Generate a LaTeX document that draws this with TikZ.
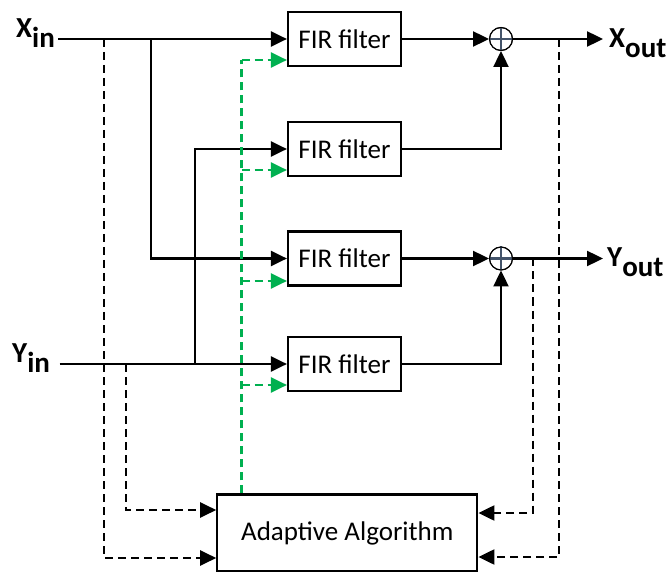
\documentclass[tikz,border=0pt]{standalone}
\usepackage{fontspec}
\setmainfont{Carlito}
\usetikzlibrary{arrows.meta}
\definecolor{fbgreen}{HTML}{00B050}
\definecolor{plusgray}{HTML}{44546A}
\newcommand\firfont{\fontsize{27}{32}\selectfont}
\newcommand\lblfont{\fontsize{29}{34}\selectfont\bfseries}
\newcommand\sigsub[1]{\raisebox{-10pt}{#1}}

\begin{document}
\begin{tikzpicture}[x=1pt,y=-1pt,
  fir/.style={draw, line width=2.2pt, minimum width=113pt, minimum height=54pt,
              inner sep=0pt, font=\firfont},
  adapt/.style={draw, line width=2.2pt, minimum width=260pt, minimum height=77pt,
              inner sep=0pt, font=\firfont},
  summer/.style={circle, draw, line width=1pt, minimum size=23pt, inner sep=0pt},
  lbl/.style={inner sep=0pt, anchor=base west, font=\lblfont},
  sig/.style={line width=2.4pt},
  fb/.style={line width=2.2pt, dash pattern=on 8pt off 5pt},
  gfb/.style={line width=2.2pt, fbgreen, dash pattern=on 8pt off 5pt},
  tip/.style={-{Triangle[length=16pt,width=15pt]}},
]
\useasboundingbox (0,0) rectangle (667,572);

% filter bank
\node[fir] (f1) at (344.5,39)    {FIR filter};
\node[fir] (f2) at (344.5,149)   {FIR filter};
\node[fir] (f3) at (344.5,258.5) {FIR filter};
\node[fir] (f4) at (344.5,364)   {FIR filter};

% adaptive block
\node[adapt] (ad) at (347.3,533) {Adaptive Algorithm};

% summing junctions
\node[summer] (s1) at (501,39) {};
\node[summer] (s2) at (501,258.5) {};
\foreach \s in {s1,s2}{
  \draw[plusgray, line width=2.8pt] (\s.west) -- (\s.east) (\s.north) -- (\s.south);
  \draw[line width=1pt] (\s) circle (11.5pt);
}

% labels
\node[lbl] (xinl)  at (16,38)   {X\sigsub{in}};
\node[lbl] (yinl)  at (12,362)  {Y\sigsub{in}};
\node[lbl] (xoutl) at (609,48)  {X\sigsub{out}};
\node[lbl] (youtl) at (607,266) {Y\sigsub{out}};

% line ends and branch points
\coordinate (xs)  at (58,39);
\coordinate (ys)  at (59.5,364);
\coordinate (xo)  at (603,39);
\coordinate (yo)  at (603,258.5);
\coordinate (bx)  at (150.7,39);
\coordinate (by)  at (195,364);
\coordinate (dxi) at (104,39);
\coordinate (dyi) at (126,364);
\coordinate (dyo) at (532.7,258.5);
\coordinate (dxo) at (559,39);
\coordinate (gtop) at (241.5,60);

% forward signal paths
\draw[sig,tip] (xs) -- (f1.west);
\draw[sig,tip] (bx) |- (f3.west);
\draw[sig,tip] (ys) -- (f4.west);
\draw[sig,tip] (by) |- (f2.west);
\draw[sig,tip] (f1.east) -- (s1.west);
\draw[sig,tip] (f2.east) -| (s1.south);
\draw[sig,tip] (f3.east) -- (s2.west);
\draw[sig,tip] (f4.east) -| (s2.south);
\draw[sig,tip] (s1.east) -- (xo);
\draw[sig,tip] (s2.east) -- (yo);

% signals into the adaptive algorithm
\draw[fb,tip] (dxi) |- ([yshift=-25pt]ad.west);
\draw[fb,tip] (dyi) |- ([yshift=23pt]ad.west);
\draw[fb,tip] (dyo) |- ([yshift=20pt]ad.east);
\draw[fb,tip] (dxo) |- ([yshift=-24pt]ad.east);

% coefficient updates
\draw[gfb] (ad.north -| gtop) -- (gtop);
\draw[gfb,tip] (gtop) -- (gtop -| f1.west);
\draw[gfb,tip] (gtop |- 0,170) -- (f2.west |- 0,170);
\draw[gfb,tip] (gtop |- 0,281) -- (f3.west |- 0,281);
\draw[gfb,tip] (gtop |- 0,385) -- (f4.west |- 0,385);
\end{tikzpicture}
\end{document}
